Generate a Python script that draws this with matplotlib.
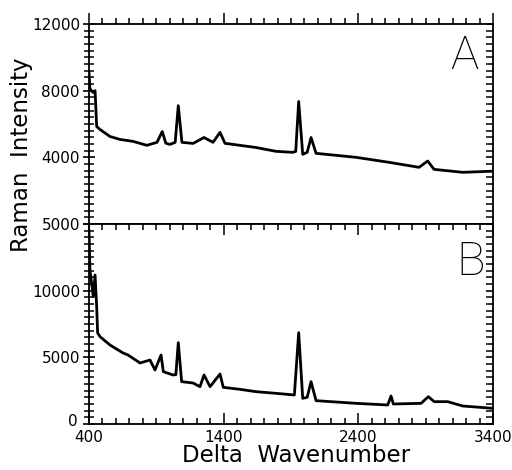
import matplotlib
matplotlib.use("Agg")
import matplotlib.pyplot as plt
import matplotlib.transforms as mtransforms
from matplotlib.ticker import MultipleLocator, FixedLocator

# ---------------- DATA ----------------
# Panel A spectrum
wn_a = [400, 407, 430, 445, 457, 482, 556, 630, 728, 830, 905, 944, 970, 1001,
        1040, 1063, 1090, 1173, 1254, 1321, 1373, 1410, 1521, 1640, 1789, 1912,
        1935, 1957, 1987, 2020, 2049, 2086, 2383, 2628, 2851, 2915, 2962, 3175, 3400]
int_a = [9100, 8100, 7900, 8000, 5850, 5670, 5250, 5075, 4955, 4720, 4900, 5550, 4850, 4775,
         4900, 7100, 4900, 4835, 5190, 4900, 5500, 4840, 4720, 4590, 4360, 4300,
         4350, 7350, 4180, 4300, 5190, 4240, 4000, 3700, 3400, 3780, 3280, 3100, 3170]

# Panel B spectrum
wn_b = [400, 407, 432, 445, 457, 464, 482, 556, 653, 690, 779, 853, 890, 935,
        952, 1024, 1045, 1063, 1088, 1172, 1224, 1254, 1299, 1373, 1397, 1521,
        1640, 1789, 1925, 1957, 1987, 2020, 2049, 2086, 2383, 2618, 2643, 2660,
        2866, 2920, 2964, 3064, 3175, 3400]
int_b = [14500, 11550, 9550, 11175, 8800, 6825, 6550, 5925, 5325, 5175, 4575, 4800, 4050, 5175,
         3925, 3675, 3700, 6100, 3175, 3075, 2800, 3675, 2800, 3750, 2750, 2600,
         2425, 2300, 2175, 6850, 1925, 2000, 3175, 1750, 1550, 1425, 2100, 1500,
         1550, 2050, 1675, 1675, 1350, 1175]

x_major = [400, 1400, 2400, 3400]
yticks_a = [0, 4000, 8000, 12000]
ylabels_a = ["", "4000", "8000", "12000"]
yticks_b = [0, 5000, 10000, 15000]
ylabels_b = ["0", "5000", "10000", "5000"]   # leading "1" of 15000 is lost in the original

# ---------------- PLOT ----------------
plt.rcParams["font.family"] = ["DejaVu Sans"]
fig = plt.figure(figsize=(5.12, 4.7), dpi=100)
ax_a = fig.add_axes([89/512, 1-224/470, 404/512, 200/470])
ax_b = fig.add_axes([89/512, 1-424/470, 404/512, 200/470])

ax_a.plot(wn_a, int_a, color="black", lw=2.0, solid_joinstyle="round")
ax_b.plot(wn_b, int_b, color="black", lw=2.0, solid_joinstyle="round")

for ax, yt, ymax, yminor in [(ax_a, yticks_a, 12000, 400), (ax_b, yticks_b, 15000, 500)]:
    ax.set_xlim(400, 3400)
    ax.set_ylim(0, ymax)
    ax.xaxis.set_major_locator(FixedLocator(x_major))
    ax.xaxis.set_minor_locator(MultipleLocator(100))
    ax.yaxis.set_major_locator(FixedLocator(yt))
    ax.yaxis.set_minor_locator(MultipleLocator(yminor))
    ax.tick_params(axis="y", which="major", direction="inout", length=9, width=1.2,
                   left=True, right=True, labelsize=11, pad=2)
    ax.tick_params(axis="y", which="minor", direction="inout", length=7, width=1.1,
                   left=True, right=True)
    for sp in ax.spines.values():
        sp.set_linewidth(1.3)

# right side ticks point inward only
for ax in (ax_a, ax_b):
    for t in ax.yaxis.get_major_ticks() + ax.yaxis.get_minor_ticks():
        t.tick2line.set_marker(matplotlib.markers.TICKLEFT)
        t.tick2line.set_markersize(5)

ax_a.tick_params(axis="x", which="both", bottom=False, top=True, direction="out",
                 labelbottom=False, width=1.1)
ax_a.tick_params(axis="x", which="major", length=8)
ax_a.tick_params(axis="x", which="minor", length=4)
ax_a.set_yticklabels(ylabels_a)

ax_b.tick_params(axis="x", which="both", bottom=True, top=True, direction="in",
                 width=1.1, labelsize=11, pad=4)
ax_b.tick_params(axis="x", which="major", length=8)
ax_b.tick_params(axis="x", which="minor", length=4)
ax_b.set_yticklabels(ylabels_b)

# nudge the "0" label up a little so it clears "400"
lbl0 = ax_b.get_yticklabels()[0]
lbl0.set_transform(lbl0.get_transform() +
                   mtransforms.ScaledTranslation(-2/72, 3/72, fig.dpi_scale_trans))

ax_a.text(0.93, 0.84, "A", transform=ax_a.transAxes, ha="center", va="center",
          fontsize=34, family="Roboto", fontweight="light")
ax_b.text(0.945, 0.81, "B", transform=ax_b.transAxes, ha="center", va="center",
          fontsize=34, family="Roboto", fontweight="light")

fig.text(22/512, 1-155/470, "Raman  Intensity", rotation=90, ha="center", va="center",
         fontsize=16.5)
fig.text(296/512, 1-456/470, "Delta  Wavenumber", ha="center", va="center", fontsize=16.5)

fig.savefig("out.png", dpi=100)
